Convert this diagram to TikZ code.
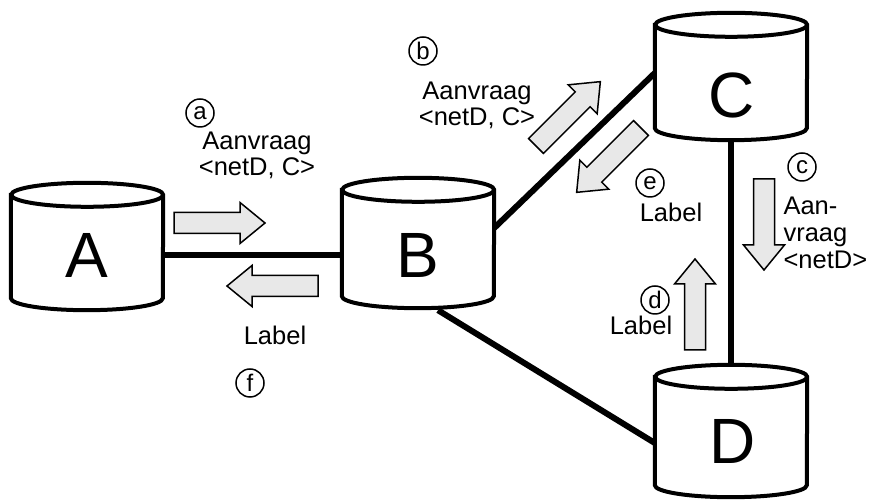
\documentclass[tikz,border=0pt]{standalone}
\usepackage{fontspec}
\setmainfont{Liberation Sans}
\usetikzlibrary{positioning}

\begin{document}
\begin{tikzpicture}[x=1pt, y=1pt,
        db/.style = {minimum width=152pt,
            inner sep=0pt
            },
        dbline/.style = {line width=4pt, fill=white},
        letter/.style = {font=\fontsize{64}{64}\selectfont},
        link/.style = {line width=6pt},
        flow/.style = {draw, line width=1.5pt, fill=gray!18},
        num/.style = {circle, draw, line width=1.5pt,
            minimum size=28pt, inner sep=0pt,
            font=\fontsize{24}{24}\selectfont
            },
        txt/.style = {align=center, font=\fontsize{25.5}{26}\selectfont},
        pics/flowarrow/.style = {code={
            \draw[flow] (0,-10.5) -- (66,-10.5) -- (66,-20.5) -- (91,0)
                -- (66,20.5) -- (66,10.5) -- (0,10.5) -- cycle;
            }}]

    \useasboundingbox (0,0) rectangle (870,500);

    % Cylinders
    \node[db, minimum height=127pt] (A) at (87,253.5) {};
    \node[db, minimum height=130pt] (B) at (418,257) {};
    \node[db, minimum height=127pt] (C) at (731,423.5) {};
    \node[db, minimum height=132pt] (D) at (731,69) {};

    % Links
    \draw[link] ([yshift=-8.5pt]A.east) -- ([yshift=-12pt]B.west);
    \draw[link] ([yshift=15pt]B.east) -- ([yshift=3.5pt]C.west);
    \draw[link] ([xshift=20pt,yshift=-2pt]B.south) -- ([yshift=-12pt]D.west);
    \draw[link] (C.south) -- (D.north);

    % Cylinder outlines
    \foreach \n in {A,B,C,D}{
        \draw[dbline] ([yshift=-12pt]\n.north west) -- ([yshift=12pt]\n.south west)
            arc[start angle=180, end angle=360, x radius=76, y radius=12]
            -- ([yshift=-12pt]\n.north east)
            arc[start angle=0, end angle=180, x radius=76, y radius=12] -- cycle;
        \draw[line width=4pt] ([yshift=-12pt]\n.north east)
            arc[start angle=0, end angle=-180, x radius=76, y radius=12];
    }

    % Names
    \node[letter] (lA) at (87,245) {A};
    \node[letter] (lB) at (418,245) {B};
    \node[letter] (lC) at (732,405) {C};
    \node[letter] (lD) at (733,59) {D};

    % Messages
    \pic[rotate=0] at (174,277) {flowarrow};
    \pic[rotate=180] at (318,214) {flowarrow};
    \pic[rotate=45] at (536,354) {flowarrow};
    \pic[rotate=225] at (641,372) {flowarrow};
    \pic[rotate=-90] at (764,321) {flowarrow};
    \pic[rotate=90] at (695,150) {flowarrow};

    % Steps
    \node[num] (na) at (200,387) {a};
    \node[txt] (ta) at (257,345) {Aanvraag\\<netD, C>};
    \node[num] (nb) at (423,449) {b};
    \node[txt] (tb) at (477,395) {Aanvraag\\<netD, C>};
    \node[num] (nc) at (802,333) {c};
    \node[txt, align=left, anchor=west,
        font=\fontsize{25.5}{27}\selectfont] (tc) at (780,267) {Aan-\\vraag\\<netD>};
    \node[num] (nd) at (655,200) {d};
    \node[txt] (td) at (641,175) {Label};
    \node[num] (ne) at (650,317) {e};
    \node[txt] (te) at (671,288) {Label};
    \node[num] (nf) at (250,117) {f};
    \node[txt] (tf) at (275,165) {Label};

\end{tikzpicture}
\end{document}
